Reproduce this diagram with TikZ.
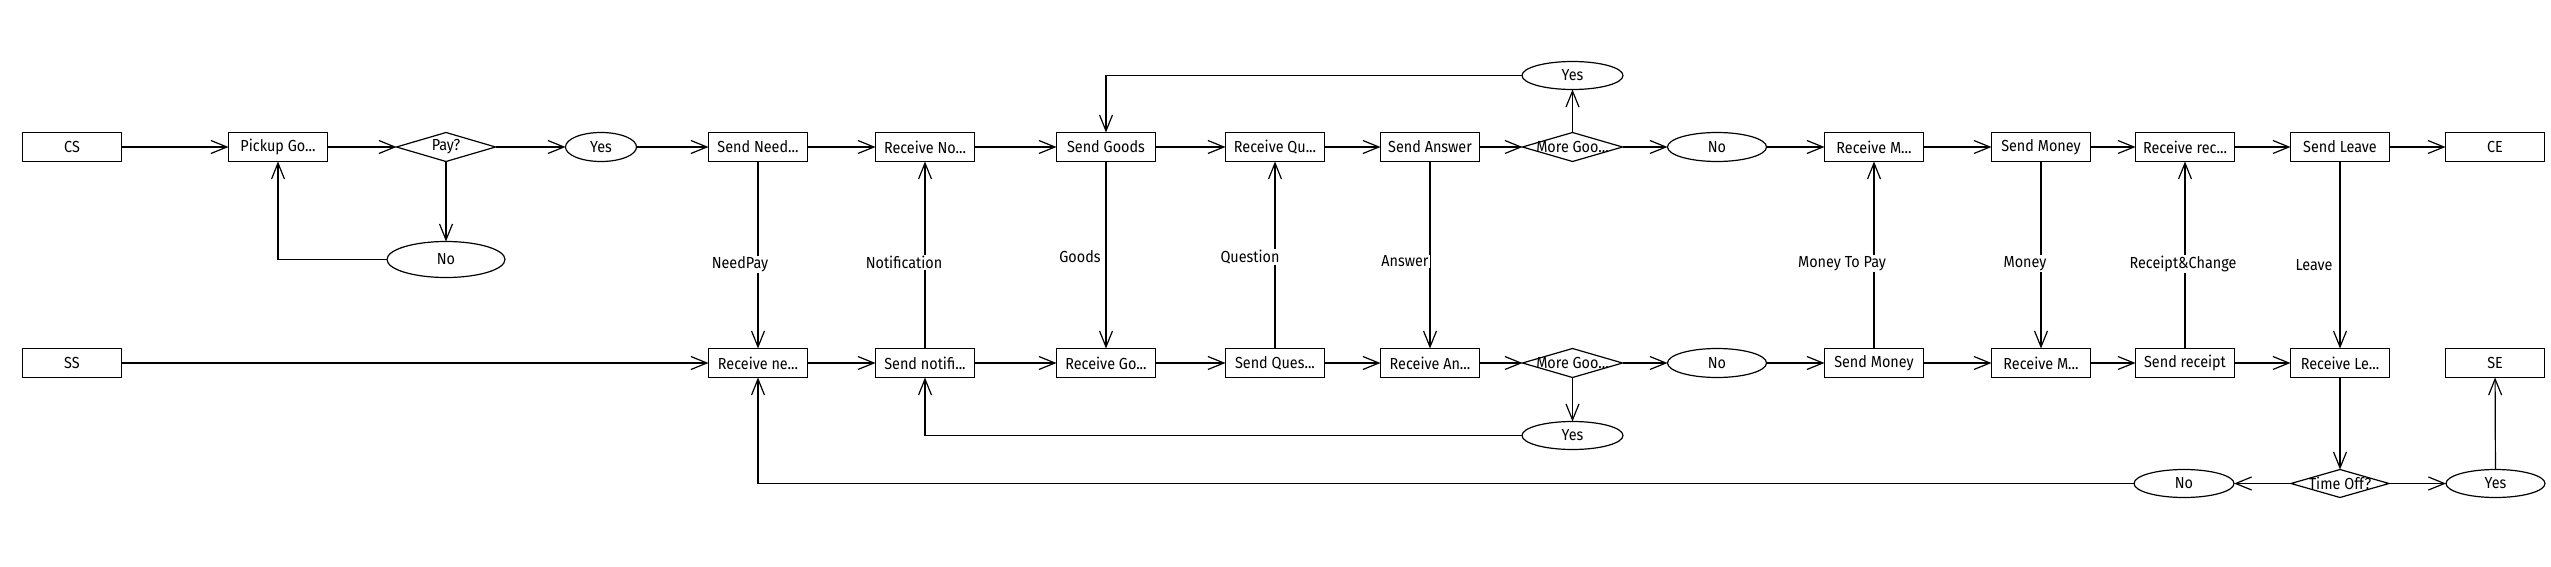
\documentclass[tikz,border=0pt]{standalone}
\usepackage{fontspec}
\setmainfont{Fira Sans}[FakeStretch=0.9]
\usetikzlibrary{positioning,shapes.geometric,arrows.meta}

\begin{document}
\begin{tikzpicture}[x=1pt, y=-1pt,
      font=\fontsize{16}{19}\selectfont,
      line width=1.2pt,
      >={Straight Barb[length=16pt,width=13pt]},
      every node/.style = {outer sep=0pt},
      activity/.style = {draw, rectangle, minimum width=99pt,
         minimum height=29pt, inner sep=1pt},
      choice/.style   = {draw, diamond, minimum width=100pt,
         minimum height=29pt, inner sep=0pt},
      answer/.style   = {draw, ellipse, minimum width=99pt,
         minimum height=29pt, inner sep=1pt},
      message/.style  = {fill=white, inner sep=1pt}
]
   \useasboundingbox (0,0) rectangle (2551,567);

   % customer side
   \node[activity]                        (c0) at (72,147) {CS};
   \node[activity, right=107pt of c0]     (c1) {Pickup Go...};
   \node[choice, minimum width=99pt, right=69pt of c1] (c2) {\makebox[0pt]{Pay?}};
   \node[answer, minimum width=71pt, right=70pt of c2] (c3) {Yes};
   \node[activity, right=72pt of c3]      (c4) {Send Need...};
   \node[activity, right=68pt of c4]      (c5) {Receive No...};
   \node[activity, right=82pt of c5]      (c6) {Send Goods};
   \node[activity, right=70pt of c6]      (c7) {Receive Qu...};
   \node[activity, right=56pt of c7]      (c8) {Send Answer};
   \node[choice, right=43pt of c8]        (c9) {\makebox[0pt]{More Goo...}};
   \node[answer, right=45pt of c9]        (c10) {No};
   \node[activity, right=58pt of c10]     (c11) {Receive M...};
   \node[activity, right=68pt of c11]     (c12) {Send Money};
   \node[activity, right=45pt of c12]     (c13) {Receive rec...};
   \node[activity, right=56pt of c13]     (c14) {Send Leave};
   \node[activity, right=56pt of c14]     (c15) {CE};

   \node[answer, minimum width=118pt, minimum height=36pt, below=80pt of c2] (n0) {No};
   \node[answer, minimum width=101pt, minimum height=28pt, above=43pt of c9] (y0) {Yes};

   % seller side
   \node[activity, below=187pt of c0]     (s0) {SS};
   \node[activity, below=187pt of c4]     (s1) {Receive ne...};
   \node[activity, below=187pt of c5]     (s2) {Send notifi...};
   \node[activity, below=187pt of c6]     (s3) {Receive Go...};
   \node[activity, below=187pt of c7]     (s4) {Send Ques...};
   \node[activity, below=187pt of c8]     (s5) {Receive An...};
   \node[choice, below=187pt of c9]       (s6) {\makebox[0pt]{More Goo...}};
   \node[answer, below=187pt of c10]      (s7) {No};
   \node[activity, below=187pt of c11]    (s8) {Send Money};
   \node[activity, below=187pt of c12]    (s9) {Receive M...};
   \node[activity, below=187pt of c13]    (s10) {Send receipt};
   \node[activity, below=187pt of c14]    (s11) {Receive Le...};
   \node[activity, below=187pt of c15]    (s12) {SE};

   \node[answer, minimum width=101pt, minimum height=28pt, below=44pt of s6] (y1) {Yes};
   \node[choice, minimum width=98pt, minimum height=28pt, below=92pt of s11] (t0) {\makebox[0pt]{Time Off?}};
   \node[answer, minimum width=100pt, minimum height=28pt, left=57pt of t0]  (n1) {No};
   \node[answer, minimum height=28pt, right=57pt of t0] (y2) {Yes};

   % flow along each side
   \draw[->] (c0) edge (c1) (c1) edge (c2) (c2) edge (c3) (c3) edge (c4)
      (c4) edge (c5) (c5) edge (c6) (c6) edge (c7) (c7) edge (c8)
      (c8) edge (c9) (c9) edge (c10) (c10) edge (c11) (c11) edge (c12)
      (c12) edge (c13) (c13) edge (c14) (c14) edge (c15);
   \draw[->] (s0) edge (s1) (s1) edge (s2) (s2) edge (s3) (s3) edge (s4)
      (s4) edge (s5) (s5) edge (s6) (s6) edge (s7) (s7) edge (s8)
      (s8) edge (s9) (s9) edge (s10) (s10) edge (s11);

   % decisions
   \draw[->] (c2) -- (n0);
   \draw[->] (n0) -| (c1);
   \draw[->] (c9) -- (y0);
   \draw[->] (y0) -| (c6);
   \draw[->] (s6) -- (y1);
   \draw[->] (y1) -| (s2);
   \draw[->] (s11) -- (t0);
   \draw[->] (t0) -- (n1);
   \draw[->] (t0) -- (y2);
   \draw[->] (y2) -- (s12);
   \draw[->] (n1) -| (s1);

   % messages between the sides
   \draw[->] (c4) -- node[message, pos=0.55, xshift=-18pt] {NeedPay} (s1);
   \draw[->] (s2) -- node[message, pos=0.46, xshift=-21pt] {Notification} (c5);
   \draw[->] (c6) -- node[message, pos=0.51, xshift=-26pt] {Goods} (s3);
   \draw[->] (s4) -- node[message, pos=0.49, xshift=-25pt] {Question} (c7);
   \draw[->] (c8) -- node[message, pos=0.535, xshift=-25pt] {Answer} (s5);
   \draw[->] (s8) -- node[message, pos=0.455, xshift=-32pt] {Money To Pay} (c11);
   \draw[->] (c12) -- node[message, pos=0.545, xshift=-16pt] {Money} (s9);
   \draw[->] (s10) -- node[message, pos=0.45, xshift=-2pt] {Receipt\&Change} (c13);
   \draw[->] (c14) -- node[message, pos=0.556, xshift=-26pt] {Leave} (s11);
\end{tikzpicture}
\end{document}
